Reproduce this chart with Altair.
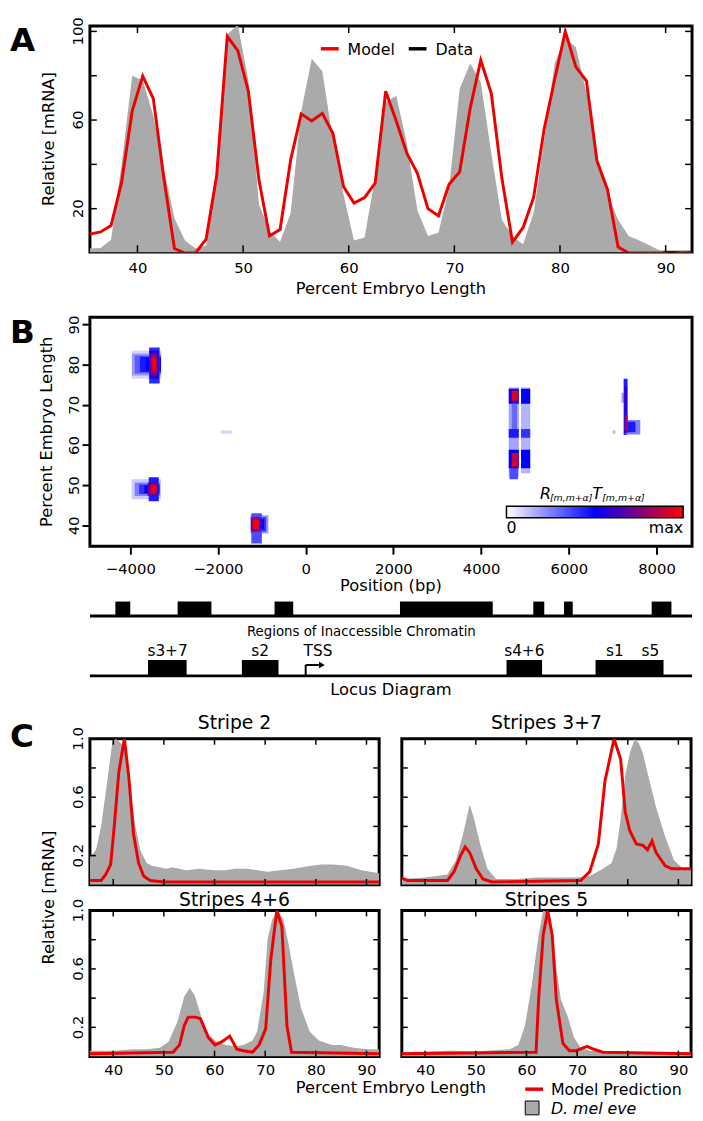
import altair as alt
import pandas as pd

FONT = "DejaVu Sans"
GRAY = "#aaaaaa"
RED = "#ee0000"

# ---------------- Panel A data ----------------
a_pos = [35.5, 36.5, 37.5, 38.5, 39.5, 40.5, 41.5, 42.5, 43.5, 44.5,
         45.5, 46.5, 47.5, 48.5, 49.5, 50.5, 51.5, 52.5, 53.5, 54.5,
         55.5, 56.5, 57.5, 58.5, 59.5, 60.5, 61.5, 62.5, 63.5, 64.5,
         65.5, 66.5, 67.5, 68.5, 69.5, 70.5, 71.5, 72.5, 73.5, 74.5,
         75.5, 76.5, 77.5, 78.5, 79.5, 80.5, 81.5, 82.5, 83.5, 84.5,
         85.5, 86.5, 87.5, 88.5, 89.5, 90.5, 91.5, 92.5]
a_model = [8.5, 9.5, 12.4, 32, 64, 79.8, 69.7, 33.7, 2, 0,
           0, 6.3, 35, 97.8, 91.3, 73, 33, 7.7, 10.6, 42,
           62.8, 59.6, 63, 54, 30, 22.5, 25, 31.5, 73, 59.6,
           45, 36, 20, 16.7, 31, 36.6, 65.4, 87, 72, 33.7,
           4.9, 11.4, 25, 56, 78.4, 100, 84, 77.7, 41.6, 28.6,
           2.7, 0, 0, 0, 0, 0, 0, 0]
a_data = [2, 2.3, 6, 40, 80, 78, 62, 38, 15.7, 5.6,
          2, 3.4, 39, 98.6, 103, 78, 22, 10, 5, 18,
          64, 87.7, 82, 51, 26.5, 5.6, 7, 34.4, 68, 71,
          49.5, 19.3, 7.7, 9.2, 29.4, 74, 85.6, 77, 45, 15,
          7.7, 4, 18, 51, 85.6, 97, 92.8, 72.6, 42, 26.5,
          15, 7.7, 5.6, 3.4, 1, 0, 0.8, 0.5]
a_xticks = [40, 50, 60, 70, 80, 90]
a_yticks = [20, 40, 60, 80, 100]
a_ylabels = [20, 60, 100]
a_legend_names = ["Model", "Data"]
a_legend_colors = [RED, "black"]

# ---------------- Panel B data ----------------
b_xticks = [-4000, -2000, 0, 2000, 4000, 6000, 8000]
b_yticks = [40, 50, 60, 70, 80, 90]
hm_x1 = [-3970, -3960, -3900, -3780, -3650, -3570, -3560, -3540, -3510, -3490,
         -3970, -3900, -3800, -3680, -3580, -3600, -3540, -3500,
         -1260, -1240, -1250, -1240, -1230, -1210, -1190,
         4630, 4910, 4700, 4630, 4910, 4630, 4910, 4650, 4630, 4910, 4700, 4700,
         7200, 7250, 7290, 7330, 7270, 7280, 7000,
         -1940]
hm_x2 = [-3290, -3300, -3300, -3300, -3300, -3330, -3350, -3380, -3400, -3410,
         -3300, -3320, -3330, -3340, -3350, -3380, -3400, -3410,
         -850, -1000, -900, -950, -1040, -1060, -1080,
         4860, 5120, 4820, 4860, 5120, 4860, 5120, 4840, 4860, 5120, 4840, 4850,
         7330, 7340, 7630, 7520, 7330, 7340, 7060,
         -1680]
hm_y1 = [76.5, 77.3, 77.8, 78.2, 78.5, 75.3, 76.5, 77.3, 78.3, 79.0,
         46.5, 47.3, 47.8, 48.0, 46.0, 47.3, 47.8, 48.3,
         38.0, 35.5, 38.5, 39.0, 38.5, 39.0, 39.5,
         52.0, 53.0, 64.0, 70.3, 70.3, 61.8, 61.8, 51.5, 54.2, 54.2, 71.0, 54.5,
         70.5, 62.5, 62.6, 63.2, 63.0, 63.5, 62.8,
         62.8]
hm_y2 = [83.5, 82.8, 82.3, 82.0, 81.8, 84.3, 83.5, 82.8, 82.0, 81.3,
         51.5, 50.7, 50.2, 50.0, 52.0, 50.7, 50.2, 49.8,
         42.5, 43.0, 42.0, 41.5, 42.0, 41.7, 41.2,
         74.3, 74.3, 70.3, 74.0, 74.0, 64.0, 64.0, 54.5, 58.8, 58.8, 73.5, 58.0,
         73.0, 76.5, 66.2, 65.8, 74.5, 67.5, 63.6,
         63.6]
hm_v = [0.08, 0.2, 0.32, 0.45, 0.5, 0.42, 0.55, 0.75, 0.92, 1.0,
        0.1, 0.25, 0.4, 0.5, 0.45, 0.7, 0.9, 1.0,
        0.2, 0.35, 0.4, 0.55, 0.75, 0.92, 1.0,
        0.18, 0.15, 0.3, 0.55, 0.5, 0.45, 0.4, 0.35, 0.5, 0.5, 0.95, 0.9,
        0.18, 0.45, 0.25, 0.45, 0.6, 0.85, 0.15,
        0.08]

inacc_start = [-4340, -2920, -710, 2150, 5190, 5890, 7890]
inacc_end = [-4000, -2150, -285, 4265, 5440, 6090, 8340]
enh_start = [-3595, -1455, 4580, 6610]
enh_end = [-2715, -620, 5390, 8160]
enh_names = ["s3+7", "s2", "s4+6", "s1", "s5"]
enh_label_pos = [-3150, -1040, 4985, 7050, 7860]
tss_pos = [0]
tss_arrow_end = [300]
tss_head = [370]
tss_label_pos = [280]

# ---------------- Panel C data ----------------
c_titles = ["Stripe 2", "Stripes 3+7", "Stripes 4+6", "Stripes 5"]
c_xticks = [40, 50, 60, 70, 80, 90]
c_yticks = [0.2, 0.4, 0.6, 0.8, 1.0]
c_ylabels = ["0.2", "0.6", "1.0"]

s2_data_x = [35.4, 36.6, 37.6, 38.9, 39.8, 40.5, 41.5, 42.4, 43.4, 44.4, 45.3, 46.6, 47.6,
             49.2, 50.4, 51.7, 54.4, 57.0, 59.9, 62.0, 64.0, 66.5, 68.5, 70.4, 73.0, 75.6,
             79.1, 81.0, 83.4, 86.1, 89.0, 92.5]
s2_data_y = [0.19, 0.24, 0.40, 0.73, 0.97, 1.0, 0.97, 0.93, 0.61, 0.40, 0.24, 0.15, 0.13,
             0.12, 0.11, 0.12, 0.10, 0.11, 0.10, 0.10, 0.11, 0.11, 0.10, 0.09, 0.10, 0.11,
             0.13, 0.14, 0.14, 0.13, 0.10, 0.08]
s2_model_x = [35.4, 37.6, 38.5, 39.5, 40.2, 41.1, 42.2, 43.1, 44.0, 45.0, 46.0, 47.3, 50.0, 92.5]
s2_model_y = [0.03, 0.03, 0.07, 0.14, 0.40, 0.77, 1.0, 0.73, 0.35, 0.15, 0.06, 0.03, 0.02, 0.02]

s37_data_x = [35.2, 40.0, 44.4, 46.1, 47.5, 48.8, 49.6, 51.0, 52.3, 54.0, 58.0, 62.0, 66.0,
              69.8, 72.5, 75.1, 76.8, 77.8, 78.6, 79.5, 80.4, 81.4, 82.2, 83.0, 84.3, 85.6,
              87.4, 89.1, 90.9, 92.5]
s37_data_y = [0.04, 0.05, 0.07, 0.17, 0.35, 0.55, 0.46, 0.26, 0.11, 0.04, 0.04, 0.05, 0.05,
              0.05, 0.06, 0.11, 0.15, 0.25, 0.45, 0.75, 0.9, 1.0, 0.97, 0.90, 0.71, 0.53,
              0.33, 0.17, 0.11, 0.10]
s37_model_x = [35.2, 36.5, 38.2, 44.4, 45.7, 47.0, 47.9, 48.8, 50.1, 51.4, 53.2, 70.7, 72.5,
               74.2, 75.5, 77.3, 78.6, 79.5, 80.4, 81.7, 83.0, 83.9, 84.8, 85.6, 87.4, 88.7,
               92.5]
s37_model_y = [0.05, 0.03, 0.03, 0.03, 0.09, 0.20, 0.26, 0.22, 0.11, 0.04, 0.02, 0.03, 0.09,
               0.28, 0.71, 1.0, 0.86, 0.50, 0.37, 0.28, 0.27, 0.24, 0.30, 0.22, 0.13, 0.11,
               0.11]

s46_data_x = [35.2, 40.0, 44.0, 46.6, 49.2, 50.9, 52.7, 54.0, 55.1, 56.1, 57.5, 58.8, 60.5,
              62.3, 64.0, 65.7, 67.5, 68.4, 69.7, 70.5, 71.4, 72.5, 73.6, 74.5, 75.8, 77.1,
              78.8, 80.6, 83.2, 84.9, 87.5, 90.2, 92.5]
s46_data_y = [0.04, 0.04, 0.05, 0.05, 0.06, 0.10, 0.24, 0.41, 0.47, 0.42, 0.26, 0.15, 0.10,
              0.08, 0.07, 0.08, 0.11, 0.17, 0.44, 0.81, 0.94, 1.0, 0.94, 0.79, 0.55, 0.33,
              0.17, 0.11, 0.08, 0.08, 0.06, 0.05, 0.05]
s46_model_x = [35.2, 51.8, 53.1, 54.0, 54.8, 56.1, 57.2, 58.8, 60.1, 61.4, 63.0, 64.4, 65.7,
               67.5, 68.8, 70.1, 71.1, 72.3, 73.3, 74.3, 75.2, 92.5]
s46_model_y = [0.02, 0.03, 0.08, 0.21, 0.27, 0.27, 0.26, 0.13, 0.08, 0.10, 0.14, 0.05, 0.04,
               0.03, 0.08, 0.19, 0.66, 1.0, 0.89, 0.21, 0.03, 0.02]

s5_data_x = [35.2, 45.0, 50.0, 56.7, 58.4, 59.7, 61.1, 62.4, 63.3, 64.6, 65.9, 66.8, 68.1,
             69.4, 70.7, 72.5, 80.0, 92.5]
s5_data_y = [0.03, 0.04, 0.035, 0.05, 0.08, 0.21, 0.50, 0.83, 1.0, 0.98, 0.61, 0.39, 0.28,
             0.13, 0.06, 0.04, 0.03, 0.03]
s5_model_x = [35.2, 61.9, 62.4, 63.3, 64.2, 65.1, 65.9, 67.2, 68.5, 69.8, 72.0, 73.3, 75.1, 92.5]
s5_model_y = [0.02, 0.03, 0.39, 0.83, 1.0, 0.83, 0.39, 0.09, 0.04, 0.04, 0.07, 0.05, 0.03, 0.02]


# ---------------- helpers ----------------
def txt(s, x, y, **kw):
    return alt.Chart(pd.DataFrame({"t": [s]})).mark_text(**kw).encode(
        text="t:N", x=alt.value(x), y=alt.value(y))


def hline(x1, x2, y, color, width):
    return alt.Chart(pd.DataFrame({"k": [0]})).mark_rule(color=color, strokeWidth=width).encode(
        x=alt.value(x1), x2=alt.value(x2), y=alt.value(y))


def tick_rules(xs, ys, xt, yt, W, H, L, xax):
    dx = pd.DataFrame({"t": xt})
    dy = pd.DataFrame({"t": yt})
    kw = dict(color="black", strokeWidth=1.5)
    return [
        alt.Chart(dx).mark_rule(**kw).encode(x=alt.X("t:Q", scale=xs, axis=xax),
                                             y=alt.value(H), y2=alt.value(H - L)),
        alt.Chart(dx).mark_rule(**kw).encode(x=alt.X("t:Q", scale=xs, axis=xax),
                                             y=alt.value(0), y2=alt.value(L)),
        alt.Chart(dy).mark_rule(**kw).encode(y=alt.Y("t:Q", scale=ys, axis=None),
                                             x=alt.value(0), x2=alt.value(L)),
        alt.Chart(dy).mark_rule(**kw).encode(y=alt.Y("t:Q", scale=ys, axis=None),
                                             x=alt.value(W), x2=alt.value(W - L)),
    ]


def ylabels(vals, ys, x):
    # rotated y tick labels drawn as text through the y scale
    d = pd.DataFrame({"v": [float(v) for v in vals], "s": [str(v) for v in vals]})
    return alt.Chart(d).mark_text(fontSize=15, angle=270, align="center",
                                  baseline="alphabetic").encode(
        y=alt.Y("v:Q", scale=ys, axis=None), x=alt.value(x), text="s:N")


LETTER = dict(fontSize=33, fontWeight="bold", align="left", baseline="alphabetic")
TITLE = dict(fontSize=16.5, baseline="alphabetic")

# ---------------- Panel A ----------------
WA, HA = 610, 229
xsA = alt.Scale(domain=[35.5, 92.5], nice=False, zero=False)
ysA = alt.Scale(domain=[0.4, 102.4], nice=False, zero=False)
axAx = alt.Axis(values=a_xticks, ticks=False, tickSize=0, domain=False, grid=False,
                labelFontSize=15, labelBaseline="alphabetic", labelPadding=21,
                labelFlush=False, labelOverlap=False, title=None)
dfA = pd.DataFrame({"x": a_pos, "model": a_model, "data": a_data})
areaA = alt.Chart(dfA).mark_area(color=GRAY, clip=True).encode(
    x=alt.X("x:Q", scale=xsA, axis=axAx), y=alt.Y("data:Q", scale=ysA, axis=None))
lineA = alt.Chart(dfA).mark_line(color=RED, strokeWidth=3, clip=True).encode(
    x=alt.X("x:Q", scale=xsA, axis=axAx), y=alt.Y("model:Q", scale=ysA, axis=None))
A = alt.layer(
    areaA, lineA,
    *tick_rules(xsA, ysA, a_xticks, a_yticks, WA, HA, 7, axAx),
    ylabels(a_ylabels, ysA, -7),
    hline(234, 252, 23, a_legend_colors[0], 3.5),
    txt(a_legend_names[0], 261, 29, fontSize=16, align="left", baseline="alphabetic"),
    hline(323, 341, 23, a_legend_colors[1], 3.5),
    txt(a_legend_names[1], 350, 29, fontSize=16, align="left", baseline="alphabetic"),
    txt("Relative [mRNA]", -36, HA / 2, angle=270, **TITLE),
    txt("Percent Embryo Length", WA / 2, HA + 42, **TITLE),
    txt("A", -81, 25, **LETTER),
).properties(width=WA, height=HA)

# ---------------- Panel B ----------------
WB, HB = 610, 232
xsB = alt.Scale(domain=[-4920, 8810], nice=False, zero=False)
ysB = alt.Scale(domain=[34.8, 91.8], nice=False, zero=False)
axBx = alt.Axis(values=b_xticks, format="d", tickSize=8, tickWidth=2, tickColor="black",
                domain=False, grid=False, labelFontSize=15, labelBaseline="alphabetic",
                labelPadding=20, labelFlush=False, labelOverlap=False, title=None)
axBy = alt.Axis(values=b_yticks, tickSize=8, tickWidth=2, tickColor="black",
                domain=False, grid=False, labelFontSize=15, labelAngle=270,
                labelAlign="center", labelBaseline="alphabetic", labelPadding=4,
                labelFlush=False, labelOverlap=False, title=None)
dfH = pd.DataFrame({"x1": hm_x1, "x2": hm_x2, "y1": hm_y1, "y2": hm_y2, "v": hm_v})
heat = alt.Chart(dfH).mark_rect(clip=True).encode(
    x=alt.X("x1:Q", scale=xsB, axis=axBx), x2="x2:Q",
    y=alt.Y("y1:Q", scale=ysB, axis=axBy), y2="y2:Q",
    color=alt.Color("v:Q", scale=alt.Scale(domain=[0, 0.5, 1], interpolate="rgb",
                                           range=["#ffffff", "#0000ff", "#ff0000"]),
                    legend=alt.Legend(orient="none", legendX=422, legendY=HB - 40.5,
                                      direction="horizontal", gradientLength=179,
                                      gradientThickness=11.5, title=None, values=[0, 1],
                                      labelExpr="datum.value == 0 ? '0' : 'max'",
                                      labelFontSize=16, labelOffset=3, labelColor="black",
                                      gradientStrokeColor="black", gradientStrokeWidth=1.5,
                                      padding=0)))
dfI = pd.DataFrame({"a": inacc_start, "b": inacc_end})
inacc = alt.Chart(dfI).mark_rect(color="black").encode(
    x=alt.X("a:Q", scale=xsB, axis=axBx), x2="b:Q",
    y=alt.value(HB + 56), y2=alt.value(HB + 70.6))
dfE = pd.DataFrame({"a": enh_start, "b": enh_end})
enh = alt.Chart(dfE).mark_rect(color="black").encode(
    x=alt.X("a:Q", scale=xsB, axis=axBx), x2="b:Q",
    y=alt.value(HB + 115.3), y2=alt.value(HB + 131.3))
dfL = pd.DataFrame({"p": enh_label_pos, "n": enh_names})
enh_lab = alt.Chart(dfL).mark_text(fontSize=15.5, baseline="alphabetic").encode(
    x=alt.X("p:Q", scale=xsB, axis=axBx), y=alt.value(HB + 111.6), text="n:N")
dfT = pd.DataFrame({"p": tss_pos, "e": tss_arrow_end, "h": tss_head, "l": tss_label_pos,
                    "n": ["TSS"]})
tss_v = alt.Chart(dfT).mark_rule(color="black", strokeWidth=2).encode(
    x=alt.X("p:Q", scale=xsB, axis=axBx), y=alt.value(HB + 120.3), y2=alt.value(HB + 131.3))
tss_h = alt.Chart(dfT).mark_rule(color="black", strokeWidth=2).encode(
    x=alt.X("p:Q", scale=xsB, axis=axBx), x2="e:Q", y=alt.value(HB + 120.3))
tss_a = alt.Chart(dfT).mark_point(shape="triangle-right", filled=True, color="black",
                                  size=45, opacity=1).encode(
    x=alt.X("h:Q", scale=xsB, axis=axBx), y=alt.value(HB + 120.3))
tss_t = alt.Chart(dfT).mark_text(fontSize=15.5, baseline="alphabetic").encode(
    x=alt.X("l:Q", scale=xsB, axis=axBx), y=alt.value(HB + 111.6), text="n:N")
SUB = dict(fontSize=9.5, fontStyle="italic", align="left", baseline="alphabetic")
BIG = dict(fontSize=16, fontStyle="italic", align="left", baseline="alphabetic")
B = alt.layer(
    heat, inacc, enh,
    hline(0, WB, HB + 70.6, "black", 3), hline(0, WB, HB + 131.3, "black", 3),
    enh_lab, tss_v, tss_h, tss_a, tss_t,
    txt("Regions of Inaccessible Chromatin", 275, HB + 91.1, fontSize=13.5,
        baseline="alphabetic"),
    txt("Locus Diagram", 305, HB + 150.3, fontSize=16.5, baseline="alphabetic"),
    txt("R", 456, HB - 47.7, **BIG),
    txt("[m,m+\u03b1]", 466, HB - 45.4, **SUB),
    txt("T", 509, HB - 47.7, **BIG),
    txt("[m,m+\u03b1]", 519, HB - 45.4, **SUB),
    txt("Percent Embryo Length", -38.5, HB / 2, angle=270, **TITLE),
    txt("Position (bp)", WB / 2, HB + 45.6, **TITLE),
    txt("B", -81, 25.7, **LETTER),
).properties(width=WB, height=HB)

# ---------------- Panel C ----------------
WC, HC = 293, 148


def c_panel(title, dx, dy, mx, my, xlab, ylab, toff, extras):
    xs = alt.Scale(domain=[35.4, 92.5], nice=False, zero=False)
    ys = alt.Scale(domain=[0, 1.0], nice=False, zero=False)
    xax = alt.Axis(values=c_xticks, ticks=False, tickSize=0, domain=False, grid=False,
                   labelFontSize=15, labelBaseline="alphabetic", labelPadding=18.3,
                   labelFlush=False, labelOverlap=False, title=None) if xlab else None
    d1 = pd.DataFrame({"x": dx, "y": dy})
    d2 = pd.DataFrame({"x": mx, "y": my})
    area = alt.Chart(d1).mark_area(color=GRAY, clip=True).encode(
        x=alt.X("x:Q", scale=xs, axis=xax), y=alt.Y("y:Q", scale=ys, axis=None))
    line = alt.Chart(d2).mark_line(color=RED, strokeWidth=3, clip=True).encode(
        x=alt.X("x:Q", scale=xs, axis=xax), y=alt.Y("y:Q", scale=ys, axis=None))
    layers = ([area, line]
              + tick_rules(xs, ys, c_xticks, c_yticks, WC, HC, 6, xax)
              + [txt(title, WC / 2, -toff, fontSize=19, baseline="alphabetic")]
              + ([ylabels(c_ylabels, ys, -7)] if ylab else [])
              + extras)
    return alt.layer(*layers).properties(width=WC, height=HC)


c1 = c_panel(c_titles[0], s2_data_x, s2_data_y, s2_model_x, s2_model_y, False, True, 10,
             [txt("C", -81, 8.3, **LETTER),
              txt("Relative [mRNA]", -36, 161, angle=270, **TITLE)])
c2 = c_panel(c_titles[1], s37_data_x, s37_data_y, s37_model_x, s37_model_y, False, False,
             10, [])
c3 = c_panel(c_titles[2], s46_data_x, s46_data_y, s46_model_x, s46_model_y, True, True, 5,
             [txt("Percent Embryo Length", 305, HC + 36.7, **TITLE)])
c4 = c_panel(c_titles[3], s5_data_x, s5_data_y, s5_model_x, s5_model_y, True, False, 5,
             [hline(125, 143, HC + 33, RED, 3.5),
              txt("Model Prediction", 151, HC + 39, fontSize=16, align="left",
                  baseline="alphabetic"),
              alt.Chart(pd.DataFrame({"k": [0]})).mark_square(
                  size=196, fill=GRAY, stroke="black", strokeWidth=1, opacity=1).encode(
                  x=alt.value(132), y=alt.value(HC + 52)),
              txt("D. mel eve", 151, HC + 58, fontSize=16, fontStyle="italic", align="left",
                  baseline="alphabetic")])

C = alt.concat(c1, c2, c3, c4, columns=2, spacing={"row": 26, "column": 23}, bounds="flush")
lower = alt.vconcat(B, C, spacing=12).resolve_scale(color="independent")
chart = (alt.vconcat(A, lower, spacing=15)
         .resolve_scale(color="independent")
         .properties(padding=0, background="white")
         .configure(font=FONT)
         .configure_view(stroke="black", strokeWidth=3)
         .configure_axis(labelColor="black", titleColor="black"))

chart.save("out.html", embed_options={"renderer": "svg", "actions": False})
